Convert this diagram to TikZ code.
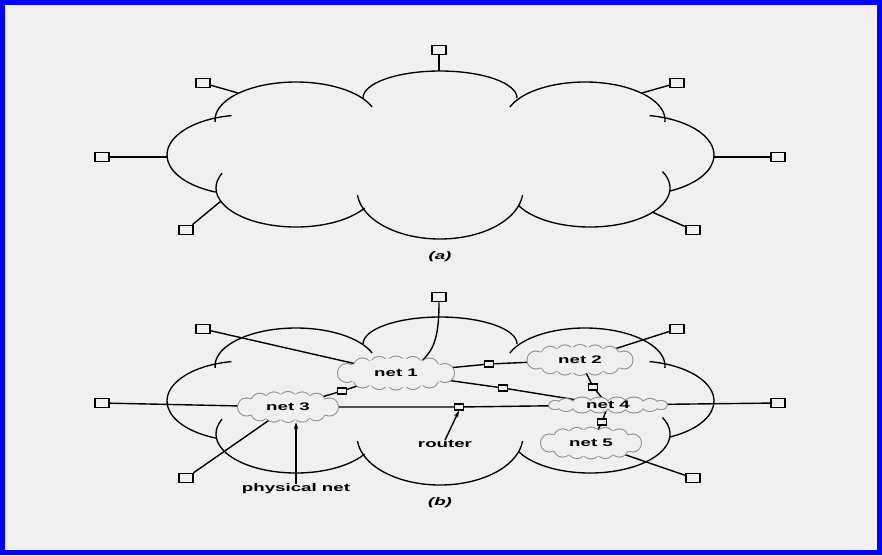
\documentclass[tikz,border=0pt]{standalone}
\usepackage{fontspec}
\usepackage{graphicx}
\setmainfont{Liberation Sans}
\usetikzlibrary{shapes.geometric,arrows.meta,calc}
\definecolor{bgc}{HTML}{F0F0F0}
\definecolor{frame}{HTML}{0000FF}
\definecolor{netgray}{HTML}{8E8E8E}
\newcommand\lbl[1]{\scalebox{1.7}[1]{\fontsize{11}{12}\selectfont\bfseries #1}}
\newcommand\bigcloud[1]{%
\begin{scope}[shift={(0,#1)}]
\draw[lobe] (296,120) ++(-183:81 and 38) arc[start angle=-183, end angle=-20, x radius=81, y radius=38];
\draw[lobe] (440,98) ++(-180:77 and 27) arc[start angle=-180, end angle=0, x radius=77, y radius=27];
\draw[lobe] (585,120) ++(-160:80 and 38) arc[start angle=-160, end angle=3, x radius=80, y radius=38];
\draw[lobe] (636,155) ++(-80:78 and 40) arc[start angle=-80, end angle=65, x radius=78, y radius=40];
\draw[lobe] (590,188) ++(-207:80 and 39) arc[start angle=-207, end angle=-385, x radius=80, y radius=39];
\draw[lobe] (440,190) ++(-186:83 and 49) arc[start angle=-186, end angle=-354, x radius=83, y radius=49];
\draw[lobe] (296,188) ++(-157.7:80 and 39) arc[start angle=-157.7, end angle=-329, x radius=80, y radius=39];
\draw[lobe] (245,155) ++(-100:78 and 40) arc[start angle=-100, end angle=-248, x radius=78, y radius=40];
\end{scope}}
% cloud outline of a physical net: union of circles round an ellipse
\newcommand\puffs[4]{% #1 node name, #2 a, #3 b, #4 puff radius
  \foreach \t in {0,47,70,90,110,133,180,227,250,270,290,313}
    {\draw[netgray, line width=2pt] ($(#1.center)+(\t:#2 and #3)$) circle[radius=#4pt];}
  \foreach \t in {0,47,70,90,110,133,180,227,250,270,290,313}
    {\fill[bgc] ($(#1.center)+(\t:#2 and #3)$) circle[radius=#4pt];}
  \fill[bgc] (#1.center) ellipse[x radius={#2+0.5*#4}, y radius={#3+0.75*#4}];}
\begin{document}
\begin{tikzpicture}[x=1pt,y=-1pt,
  lobe/.style={line width=1.35pt, black},
  wire/.style={line width=1.4pt, black},
  station/.style={draw, line width=1.5pt, minimum width=14pt, minimum height=9pt, inner sep=0pt, fill=bgc},
  router/.style={draw, line width=1.2pt, minimum width=9pt, minimum height=6pt, inner sep=0pt, fill=bgc},
  netnode/.style={ellipse, inner sep=0pt},
  lab/.style={inner sep=0pt},
  pointer/.style={line width=1.4pt, -{Stealth[length=7pt,width=4.5pt]}}]
\fill[bgc] (0,0) rectangle (882,555);
\draw[frame, line width=5pt] (2.5,2.5) rectangle (879.5,552.5);
\useasboundingbox (0,0) rectangle (882,555);

% ---------- (a) ----------
\bigcloud{0}
\node[station] (sqA1) at (439,50) {};
\node[station] (sqA2) at (203,83) {};
\node[station] (sqA3) at (677,83) {};
\node[station] (sqA4) at (102,157) {};
\node[station] (sqA5) at (778,157) {};
\node[station] (sqA6) at (186,230) {};
\node[station] (sqA7) at (693,230) {};
\coordinate (cA1) at (439,71);
\coordinate (cA2) at (238,93);
\coordinate (cA3) at (642,93);
\coordinate (cA4) at (167,157);
\coordinate (cA5) at (714,157);
\coordinate (cA6) at (221,201);
\coordinate (cA7) at (652,212);
\foreach \i in {1,...,7} {\draw[wire] (sqA\i) -- (cA\i);}
\node[lab] (capA) at (440,257) {\lbl{\itshape (a)}};

% ---------- (b) ----------
\bigcloud{246}
\node[station] (sqB1) at (439,297) {};
\node[station] (sqB2) at (203,329) {};
\node[station] (sqB3) at (677,329) {};
\node[station] (sqB4) at (102,403) {};
\node[station] (sqB5) at (778,403) {};
\node[station] (sqB6) at (186,478) {};
\node[station] (sqB7) at (693,478) {};

\node[netnode, minimum width=117pt, minimum height=33pt] (net1) at (396,373) {};
\node[netnode, minimum width=106pt, minimum height=30pt] (net2) at (580,360) {};
\node[netnode, minimum width=100pt, minimum height=30pt] (net3) at (288,407) {};
\node[netnode, minimum width=118pt, minimum height=15pt] (net4) at (608,405) {};
\node[netnode, minimum width=100pt, minimum height=31pt] (net5) at (591,443) {};
\coordinate (n1top) at (421,362);

\node[router] (r13) at (342,391) {};
\node[router] (r12) at (489,364) {};
\node[router] (r14) at (503,388) {};
\node[router] (r34) at (459,407) {};
\node[router] (r24) at (593,387) {};
\node[router] (r45) at (602,422) {};

% connectors (the clouds are drawn over their inner ends)
\draw[wire] (sqB2) -- (net1.center);
\draw[wire] (sqB1.south) .. controls (439,340) and (433,350) .. (n1top);
\draw[wire] (sqB3) -- (net2.center);
\draw[wire] (sqB4) -- (net3.center);
\draw[wire] (sqB5) -- (net4.center);
\draw[wire] (sqB6) -- (net3.center);
\draw[wire] (sqB7) -- (net5.center);
\draw[wire] (net3.center) -- (r13) -- (net1.center);
\draw[wire] (net1.center) -- (r12) -- (net2.center);
\draw[wire] (net1.center) -- (r14) -- (net4.center);
\draw[wire] (net3.center) -- (r34) -- (net4.center);
\draw[wire] (net2.center) -- (r24) -- (net4.center);
\draw[wire] (net4.center) -- (r45) -- (net5.center);

% physical nets
\puffs{net1}{49}{7.5}{9}
\puffs{net2}{44}{6.5}{8.5}
\puffs{net3}{41.5}{6.5}{8.5}
\puffs{net5}{41.5}{7}{8.5}
\foreach \dx/\rx/\ry in {-53/6/4,-42/8/6,-26/10/7.5,-9/10/7.5,9/10/7.5,26/10/7.5,42/8/6,53/6/4}
  {\draw[netgray, line width=2pt] ($(net4.center)+(\dx,0)$) ellipse[x radius=\rx pt, y radius=\ry pt];}
\foreach \dx/\rx/\ry in {-53/6/4,-42/8/6,-26/10/7.5,-9/10/7.5,9/10/7.5,26/10/7.5,42/8/6,53/6/4}
  {\fill[bgc] ($(net4.center)+(\dx,0)$) ellipse[x radius=\rx pt, y radius=\ry pt];}

\node[lab] at (net1) {\lbl{net 1}};
\node[lab] at (net2) {\lbl{net 2}};
\node[lab] at (net3) {\lbl{net 3}};
\node[lab] at (net4) {\lbl{net 4}};
\node[lab] at (net5) {\lbl{net 5}};
\foreach \r in {r13,r12,r14,r34,r24,r45} {\node[router] at (\r) {};}

\node[lab] (lblPhys) at (296,489) {\lbl{physical net}};
\node[lab] (lblRouter) at (445,444) {\lbl{router}};
\draw[pointer] (lblPhys.north) -- (lblPhys.north |- net3.south);
\draw[pointer] (lblRouter.north) -- (r34.south);
\node[lab] (capB) at (440,503) {\lbl{\itshape (b)}};
\end{tikzpicture}
\end{document}
